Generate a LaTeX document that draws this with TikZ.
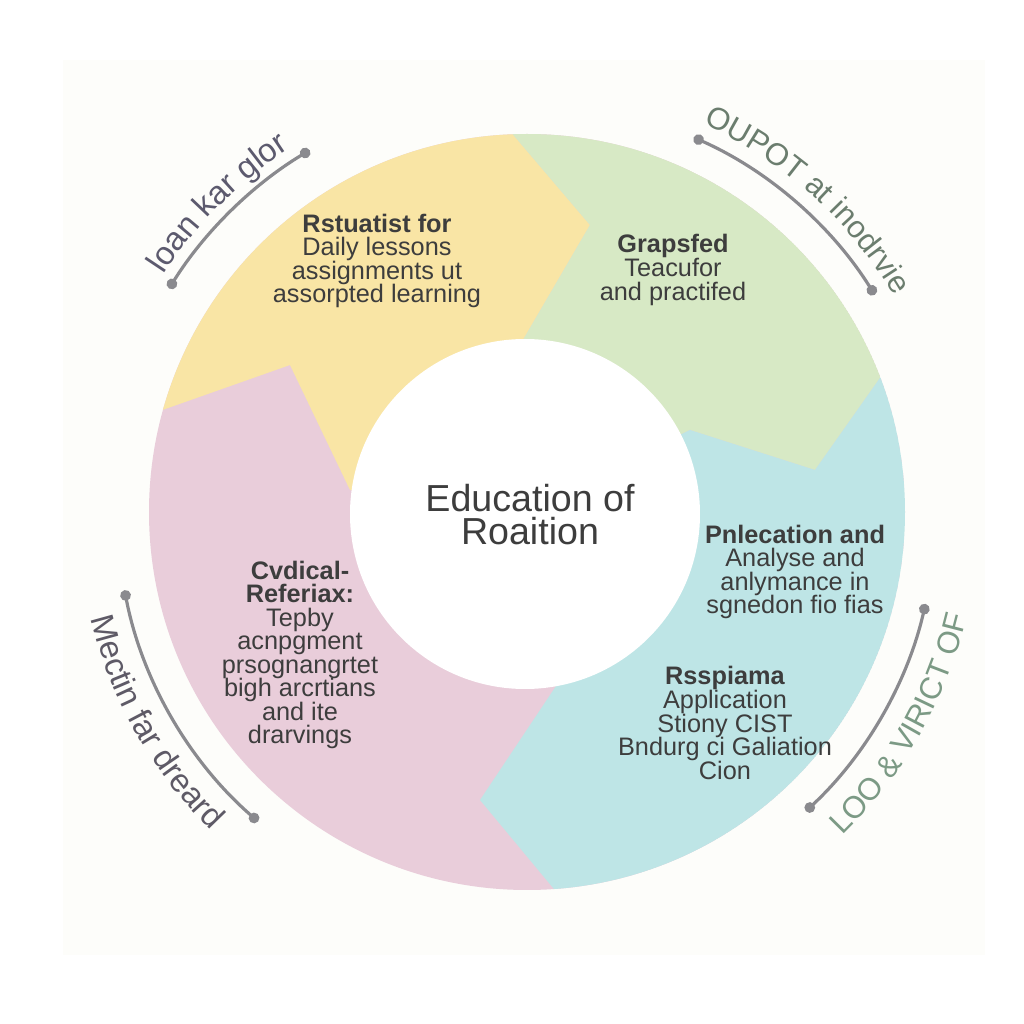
\documentclass[tikz,border=0pt]{standalone}
\usepackage{fontspec}
\setmainfont{Liberation Sans}
\usepackage{tikz}
\usetikzlibrary{arrows.meta,decorations.text}
\definecolor{panel}{HTML}{FDFDFA}
\definecolor{yellowsec}{HTML}{F9E5A5}
\definecolor{greensec}{HTML}{D7E9C5}
\definecolor{bluesec}{HTML}{BEE5E6}
\definecolor{pinksec}{HTML}{E9CDDA}
\definecolor{textgray}{HTML}{3D3D3D}
\definecolor{arcgray}{HTML}{8A8A8E}
\definecolor{tlgray}{HTML}{5C5A6E}
\definecolor{trgray}{HTML}{6B7D6E}
\definecolor{blgray}{HTML}{5E5A66}
\definecolor{brgray}{HTML}{7C9A85}
\tikzstyle{sector}=[align=center,text=textgray,font={\fontsize{7.2}{6.7}\selectfont\lineskiplimit=-5pt\relax}]
\tikzstyle{hub}=[align=center,text=textgray,font={\fontsize{10.7}{9.4}\selectfont\lineskiplimit=-5pt\relax}]
\tikzstyle{cyclearc}=[draw=arcgray,line width=0.9pt,{Circle[length=3pt]}-{Circle[length=3pt]}]

\begin{document}
\begin{tikzpicture}
  \useasboundingbox (0,0) rectangle (10.24,10.24);
  \fill[panel] (0.63,0.69) rectangle (9.85,9.64);
  \coordinate (C) at (5.27,5.12);
  \coordinate (H) at (5.25,5.10);
  % sectors
  \begin{scope}
    \clip (C) circle (3.78);
    \fill[pinksec] (C) circle (3.78);
    \fill[yellowsec] (4.75,9.34) -- (5.90,7.99) -- (5.20,6.79) -- (5.25,5.12)
      -- (3.50,5.34) -- (2.90,6.59) -- (1.20,5.99) -- (1.00,9.34) -- cycle;
    \fill[greensec] (4.75,9.34) -- (5.90,7.99) -- (5.20,6.79) -- (5.25,5.12)
      -- (6.90,5.94) -- (8.15,5.54) -- (9.35,7.24) -- (9.40,9.34) -- cycle;
    \fill[bluesec] (9.35,7.24) -- (8.15,5.54) -- (6.90,5.94) -- (5.25,5.12)
      -- (5.60,3.44) -- (4.80,2.24) -- (5.88,0.94) -- (9.50,0.90) -- cycle;
  \end{scope}
  \fill[white] (H) circle (1.75);
  \node[hub] (hub) at (5.30,5.09) {Education of\\Roaition};
  % sector texts
  \node[sector] (yellowtext) at (3.77,7.63) {\textbf{Rstuatist for}\\Daily lessons\\assignments ut\\assorpted learning};
  \node[sector] (greentext) at (6.73,7.54) {\textbf{Grapsfed}\\Teacufor\\and practifed};
  \node[sector] (bluetext) at (7.95,4.52) {\textbf{Pnlecation and}\\Analyse and\\anlymance in\\sgnedon fio fias};
  \node[sector] (lowtext) at (7.25,3.01) {\textbf{Rsspiama}\\Application\\Stiony CIST\\Bndurg ci Galiation\\Cion};
  \node[sector] (pinktext) at (3.00,3.69) {\textbf{Cvdical-}\\\textbf{Referiax:}\\Tepby\\acnpgment\\prsognangrtet\\bigh arcrtians\\and ite\\drarvings};
  % arcs
  \path (C) ++(148:4.22) coordinate (tlstart);
  \path (C) ++(66:4.10) coordinate (trstart);
  \path (C) ++(191:4.10) coordinate (blstart);
  \path (C) ++(-47:4.09) coordinate (brstart);
  \draw[cyclearc] (tlstart) arc[start angle=148, end angle=121, radius=4.22];
  \draw[cyclearc] (trstart) arc[start angle=66, end angle=32, radius=4.10];
  \draw[cyclearc] (blstart) arc[start angle=191, end angle=229, radius=4.10];
  \draw[cyclearc] (brstart) arc[start angle=-47, end angle=-13, radius=4.09];
  % arc labels
  \path[decorate,decoration={text along path,text align=center,
    text={|\fontsize{9.3}{9.3}\selectfont\color{tlgray}|loan kar glor}}]
    (C) ++(152:4.34) arc[start angle=152, end angle=118, radius=4.34];
  \path[decorate,decoration={text along path,text align=center,
    text={|\fontsize{8.8}{8.8}\selectfont\color{trgray}|OUPOT at inodrvie}}]
    (C) ++(70:4.26) arc[start angle=70, end angle=26, radius=4.26];
  \path[decorate,decoration={text along path,text align=center,
    text={|\fontsize{9.3}{9.3}\selectfont\color{blgray}|Mectin far dreard}}]
    (C) ++(187:4.49) arc[start angle=187, end angle=232, radius=4.49];
  \path[decorate,decoration={text along path,text align=center,
    text={|\fontsize{8.8}{8.8}\selectfont\color{brgray}|LOO {\&} VIRICT OF}}]
    (C) ++(-50:4.52) arc[start angle=-50, end angle=-9, radius=4.52];
\end{tikzpicture}
\end{document}
